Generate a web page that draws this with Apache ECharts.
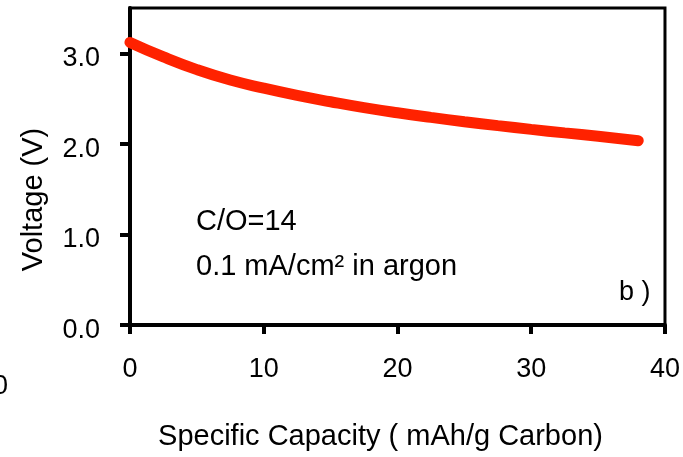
<!DOCTYPE html>
<html>
<head>
<meta charset="utf-8">
<script src="https://cdn.jsdelivr.net/npm/echarts@6/dist/echarts.min.js"></script>
<style>
  html, body { margin: 0; padding: 0; background: #fff; }
  #chart-container { width: 683px; height: 457px; }
</style>
</head>
<body>
<div id="chart-container"></div>
<script>
// 数据：放电曲线
const capacity = [0, 2.5, 5, 7.5, 10, 12.5, 15, 17.5, 20, 22.5, 25, 27.5, 30, 32.5, 35, 38];
const voltage = [3.12, 2.96, 2.82, 2.705, 2.615, 2.535, 2.465, 2.40, 2.343, 2.292, 2.245, 2.201, 2.16, 2.121, 2.084, 2.035];
const xTicks = [0, 10, 20, 30, 40];
const yTicks = [0, 1, 2, 3];

const font = 'Liberation Sans, Arial, sans-serif';
const points = capacity.map((c, i) => [c, voltage[i]]);

const chartOption = {
  animation: false,
  backgroundColor: '#fff',
  grid: {
    left: 130, right: 18, top: 8, bottom: 132,
    show: true, borderColor: '#000', borderWidth: 3
  },
  xAxis: {
    type: 'value',
    min: 0, max: 40, interval: 10,
    name: 'Specific Capacity ( mAh/g Carbon)',
    nameLocation: 'middle',
    nameGap: 97,
    nameTextStyle: { fontFamily: font, fontSize: 29, color: '#000', padding: [0, 34, 0, 0] },
    axisLine: { show: true, lineStyle: { color: '#000', width: 4 } },
    axisTick: { show: true, customValues: xTicks, length: 9, lineStyle: { color: '#000', width: 4 } },
    axisLabel: { customValues: xTicks, fontFamily: font, fontSize: 27, color: '#000', margin: 31 },
    splitLine: { show: false }
  },
  yAxis: {
    type: 'value',
    min: 0, max: 3.5, interval: 1,
    name: 'Voltage (V)',
    nameLocation: 'middle',
    nameRotate: 90,
    nameGap: 82,
    nameTextStyle: { fontFamily: font, fontSize: 29, color: '#000', padding: [0, 66, 0, 0] },
    axisLine: { show: true, lineStyle: { color: '#000', width: 4 } },
    axisTick: { show: true, customValues: yTicks, length: 10, lineStyle: { color: '#000', width: 4 } },
    axisLabel: {
      customValues: yTicks, color: '#000', margin: 30,
      formatter: v => '{t|' + v.toFixed(1) + '}',
      rich: { t: { fontFamily: font, fontSize: 27, color: '#000', padding: [11, 0, 0, 0] } }
    },
    splitLine: { show: false }
  },
  graphic: [
    { type: 'text', left: 196, top: 207, style: { text: 'C/O=14', font: '29px ' + font, fill: '#000' } },
    { type: 'text', left: 196, top: 252, style: { text: '0.1 mA/cm² in argon', font: '29px ' + font, fill: '#000' } },
    { type: 'text', left: 619, top: 279, style: { text: 'b )', font: '27px ' + font, fill: '#000' } },
    { type: 'text', left: -7, top: 373, style: { text: '0', font: '27px ' + font, fill: '#000' } }
  ],
  series: [{
    type: 'line',
    data: points,
    smooth: 0.5,
    showSymbol: false,
    lineStyle: { color: '#ff2200', width: 11, cap: 'round' }
  }]
};

const chartContainer = document.getElementById('chart-container');
const chart = echarts.init(chartContainer);
chart.setOption(chartOption);
</script>
</body>
</html>
